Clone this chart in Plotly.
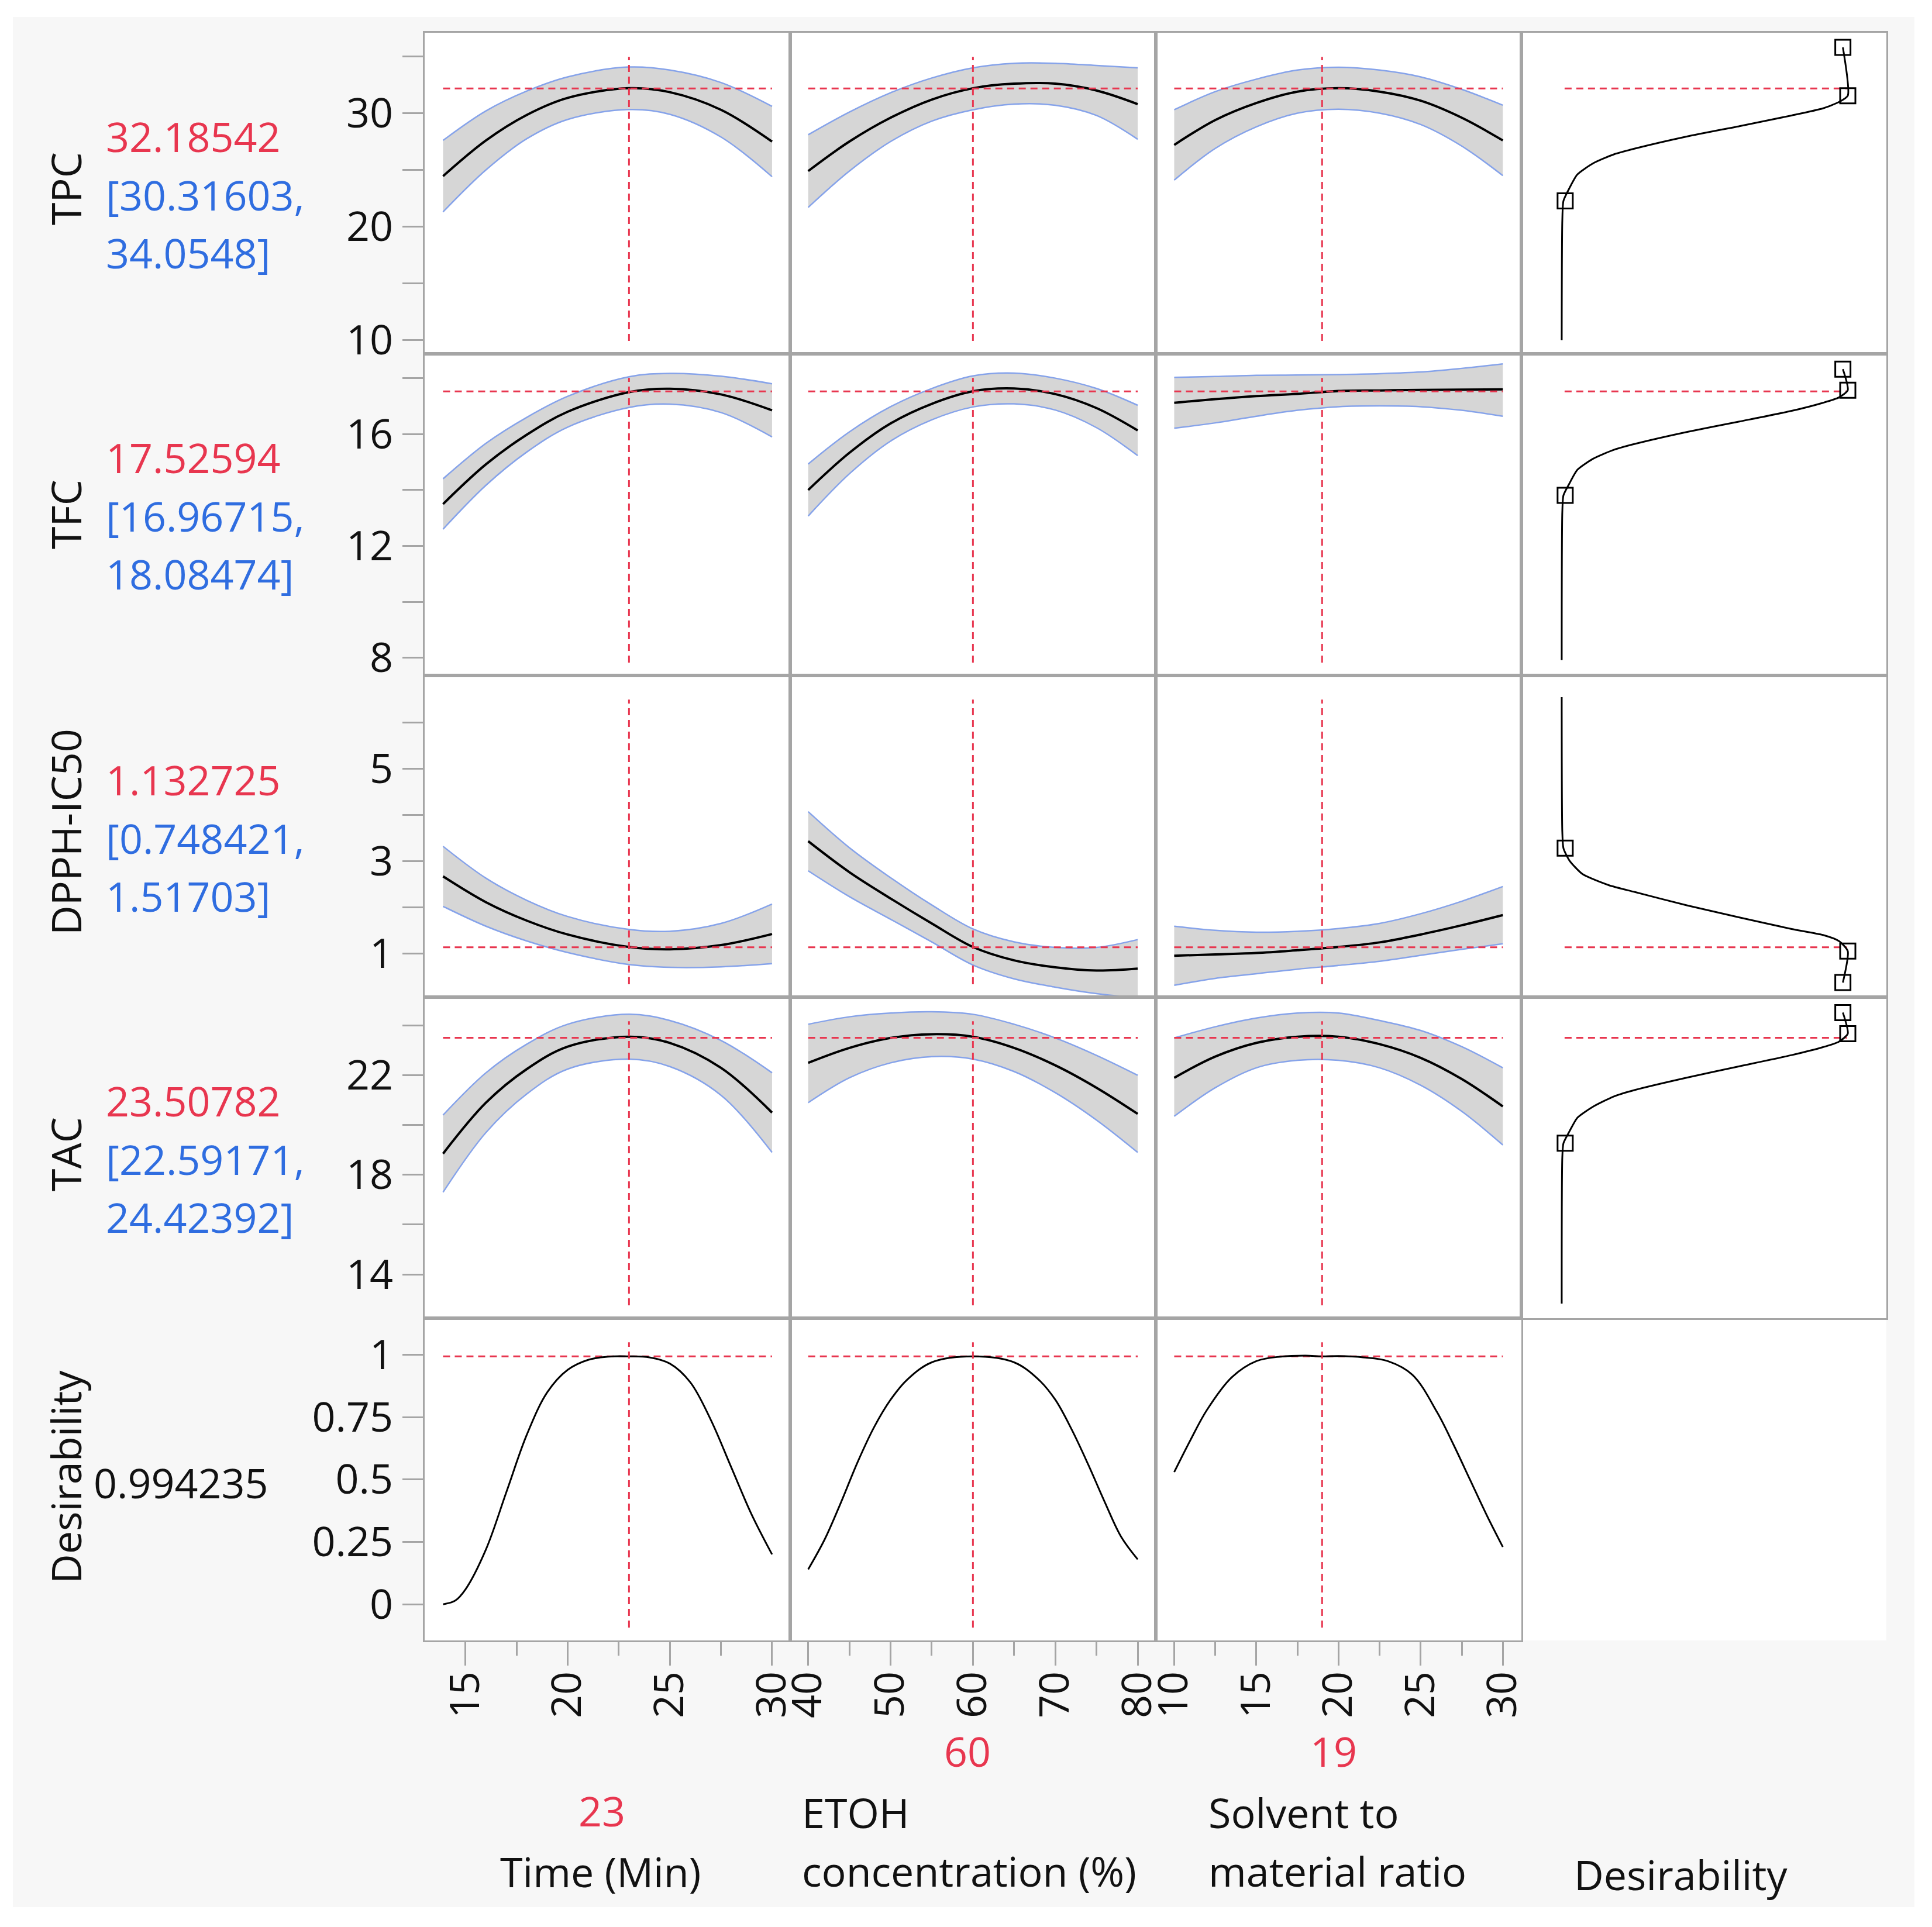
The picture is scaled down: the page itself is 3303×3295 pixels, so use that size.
import plotly.graph_objects as go
from plotly.subplots import make_subplots

# factor grids used by the profiler curves
time_x = [13.9, 16, 18, 20, 23, 25, 27.5, 30]
etoh_x = [40, 45, 50, 55, 60, 65, 70, 75, 80]
solv_x = [10, 12.5, 15, 17.5, 20, 22.5, 25, 27.5, 30]

# TPC profiles (prediction, upper / lower confidence limits)
tpc_time = [24.45, 27.6, 29.85, 31.35, 32.2, 31.85, 30.3, 27.5]
tpc_time_hi = [27.6, 30.2, 31.95, 33.2, 34.07, 33.8, 32.7, 30.6]
tpc_time_lo = [21.3, 25.0, 27.75, 29.45, 30.32, 29.9, 27.9, 24.4]
tpc_etoh = [24.9, 27.5, 29.6, 31.2, 32.2, 32.6, 32.6, 32.0, 30.8]
tpc_etoh_hi = [28.1, 30.1, 31.8, 33.1, 34.0, 34.4, 34.4, 34.2, 34.0]
tpc_etoh_lo = [21.7, 24.9, 27.5, 29.3, 30.3, 30.8, 30.7, 29.8, 27.7]
tpc_solv = [27.2, 29.4, 30.9, 31.9, 32.2, 31.9, 31.1, 29.6, 27.6]
tpc_solv_hi = [30.3, 31.9, 33.0, 33.8, 34.05, 33.8, 33.2, 32.1, 30.7]
tpc_solv_lo = [24.1, 26.9, 28.8, 30.0, 30.35, 30.0, 29.0, 27.1, 24.5]

# TFC profiles
tfc_time = [13.5, 14.92, 15.98, 16.8, 17.5, 17.62, 17.42, 16.85]
tfc_time_hi = [14.4, 15.67, 16.6, 17.35, 18.05, 18.17, 18.07, 17.8]
tfc_time_lo = [12.6, 14.17, 15.36, 16.25, 16.95, 17.07, 16.77, 15.9]
tfc_etoh = [14.0, 15.33, 16.38, 17.08, 17.53, 17.63, 17.43, 16.93, 16.13]
tfc_etoh_hi = [14.93, 16.08, 16.98, 17.63, 18.08, 18.18, 18.0, 17.63, 17.03]
tfc_etoh_lo = [13.07, 14.58, 15.75, 16.51, 16.97, 17.08, 16.86, 16.23, 15.23]
tfc_solv = [17.12, 17.25, 17.36, 17.44, 17.54, 17.56, 17.58, 17.59, 17.6]
tfc_solv_hi = [18.03, 18.06, 18.1, 18.11, 18.13, 18.16, 18.22, 18.35, 18.51]
tfc_solv_lo = [16.21, 16.4, 16.64, 16.85, 16.98, 17.01, 16.98, 16.85, 16.64]

# DPPH-IC50 profiles
dpph_time = [2.67, 2.11, 1.71, 1.41, 1.14, 1.09, 1.18, 1.42]
dpph_time_hi = [3.32, 2.63, 2.15, 1.80, 1.52, 1.48, 1.65, 2.07]
dpph_time_lo = [2.02, 1.59, 1.27, 1.02, 0.76, 0.70, 0.71, 0.78]
dpph_etoh = [3.43, 2.76, 2.19, 1.65, 1.14, 0.85, 0.70, 0.63, 0.67]
dpph_etoh_hi = [4.07, 3.29, 2.64, 2.05, 1.53, 1.25, 1.13, 1.13, 1.30]
dpph_etoh_lo = [2.79, 2.23, 1.74, 1.25, 0.75, 0.45, 0.27, 0.13, 0.04]
dpph_solv = [0.95, 0.98, 1.01, 1.07, 1.14, 1.24, 1.41, 1.61, 1.83]
dpph_solv_hi = [1.59, 1.50, 1.46, 1.48, 1.54, 1.65, 1.86, 2.13, 2.45]
dpph_solv_lo = [0.31, 0.46, 0.56, 0.66, 0.74, 0.83, 0.96, 1.09, 1.21]

# TAC profiles
tac_time = [18.85, 20.9, 22.25, 23.15, 23.55, 23.3, 22.3, 20.5]
tac_time_hi = [20.4, 22.1, 23.25, 24.05, 24.45, 24.2, 23.4, 22.1]
tac_time_lo = [17.3, 19.7, 21.25, 22.25, 22.65, 22.35, 21.2, 18.9]
tac_etoh = [22.5, 23.1, 23.5, 23.65, 23.55, 23.1, 22.4, 21.5, 20.45]
tac_etoh_hi = [24.05, 24.35, 24.5, 24.55, 24.45, 24.05, 23.5, 22.8, 22.0]
tac_etoh_lo = [20.9, 21.9, 22.5, 22.75, 22.65, 22.15, 21.3, 20.2, 18.9]
tac_solv = [21.9, 22.75, 23.3, 23.55, 23.55, 23.25, 22.7, 21.85, 20.75]
tac_solv_hi = [23.5, 23.95, 24.3, 24.5, 24.5, 24.2, 23.8, 23.15, 22.3]
tac_solv_lo = [20.35, 21.5, 22.3, 22.6, 22.6, 22.3, 21.6, 20.55, 19.2]

# overall desirability profiles
des_time_x = [13.9, 14.5, 15, 16, 17, 18, 19, 20, 21, 22, 23, 24, 25, 26, 27, 28, 29, 30]
des_time = [0.0, 0.015, 0.06, 0.22, 0.45, 0.68, 0.85, 0.94, 0.98, 0.993, 0.994, 0.99,
            0.965, 0.89, 0.74, 0.55, 0.36, 0.2]
des_etoh_x = [40, 42, 44, 46, 48, 50, 52, 55, 60, 65, 68, 70, 72, 74, 76, 78, 80]
des_etoh = [0.14, 0.26, 0.41, 0.57, 0.71, 0.82, 0.9, 0.97, 0.994, 0.97, 0.9, 0.82,
            0.7, 0.56, 0.41, 0.27, 0.18]
des_solv_x = [10, 11, 12, 13.5, 15, 16.5, 18, 19, 20, 21.5, 23, 24.5, 26, 27, 28, 29, 30]
des_solv = [0.53, 0.66, 0.78, 0.91, 0.975, 0.993, 0.997, 0.994, 0.995, 0.99, 0.975,
            0.92, 0.77, 0.64, 0.5, 0.36, 0.23]

# desirability functions (x = desirability, y = response)
fn_d = [0.060, 0.062, 0.066, 0.087, 0.114, 0.169, 0.241, 0.314, 0.496, 0.677, 0.858,
        0.967, 1.022, 1.053, 1.036]
tpc_fn = [10.0, 20.5, 22.27, 23.41, 24.59, 25.58, 26.37, 26.88, 27.95, 28.86, 29.80,
          30.43, 30.98, 31.54, 35.8]
tfc_fn = [7.92, 13.2, 13.81, 14.24, 14.72, 15.12, 15.44, 15.65, 16.08, 16.45, 16.83,
          17.12, 17.31, 17.57, 18.32]
dpph_fn_d = [0.060, 0.062, 0.066, 0.087, 0.132, 0.223, 0.314, 0.496, 0.677, 0.858,
             0.967, 1.022, 1.053, 1.036]
dpph_fn = [6.55, 3.64, 3.28, 3.01, 2.72, 2.48, 2.33, 2.04, 1.78, 1.53, 1.40, 1.27,
           1.05, 0.37]
tac_fn = [12.83, 18.7, 19.27, 19.75, 20.29, 20.74, 21.15, 21.41, 21.91, 22.36, 22.81,
          23.13, 23.35, 23.67, 24.52]
mark_d = [0.072, 1.053, 1.036]
tpc_mark = [22.27, 31.54, 35.8]
tfc_mark = [13.81, 17.57, 18.32]
dpph_mark = [3.28, 1.05, 0.37]
tac_mark = [19.27, 23.67, 24.52]

# current settings
factor_now = [23, 60, 19]
factor_now_txt = ["23", "60", "19"]
resp_names = ["TPC", "TFC", "DPPH-IC50", "TAC", "Desirability"]
resp_now = [32.18542, 17.52594, 1.132725, 23.50782, 0.994235]
resp_now_txt = ["32.18542", "17.52594", "1.132725", "23.50782"]
resp_ci_txt = [["[30.31603,", "34.0548]"], ["[16.96715,", "18.08474]"],
               ["[0.748421,", "1.51703]"], ["[22.59171,", "24.42392]"]]

# axis ticks
tpc_ticks = [10, 15, 20, 25, 30, 35]
tpc_labels = ["10", "", "20", "", "30", ""]
tfc_ticks = [8, 10, 12, 14, 16, 18]
tfc_labels = ["8", "", "12", "", "16", ""]
dpph_ticks = [1, 2, 3, 4, 5, 6]
dpph_labels = ["1", "", "3", "", "5", ""]
tac_ticks = [14, 16, 18, 20, 22, 24]
tac_labels = ["14", "", "18", "", "22", ""]
des_ticks = [0, 0.25, 0.5, 0.75, 1]
des_labels = ["0", "0.25", "0.5", "0.75", "1"]
time_ticks = [15, 20, 25, 30]
time_minor = [17.5, 22.5, 27.5]
etoh_ticks = [40, 50, 60, 70, 80]
etoh_minor = [45, 55, 65, 75]
solv_ticks = [10, 15, 20, 25, 30]
solv_minor = [12.5, 17.5, 22.5, 27.5]

RED = "#e8364f"
BLUE = "#2f6de0"
EDGE = "#86a3ea"
FILL = "#d6d6d6"
GRID = "#a5a5a5"
FONT = "Open Sans"
FS = 70

W, H = 3303, 3295
OFF = 8  # page body margin pushes the figure by this much
col_px = [726, 1351, 1976, 2601, 3225]
row_px = [56, 605, 1155, 1705, 2254, 2805]
x_ranges = [[13.0, 30.89], [37.82, 82.2], [8.88, 31.13], [-0.08, 1.187]]
y_ranges = [[8.79, 37.09], [7.37, 18.87], [0.054, 7.02], [12.24, 25.14], [-0.145, 1.147]]


def px_x(px):
    return (px - OFF) / W


def px_y(py):
    return 1 - (py - OFF) / H


profiles = [
    [(time_x, tpc_time, tpc_time_hi, tpc_time_lo),
     (etoh_x, tpc_etoh, tpc_etoh_hi, tpc_etoh_lo),
     (solv_x, tpc_solv, tpc_solv_hi, tpc_solv_lo)],
    [(time_x, tfc_time, tfc_time_hi, tfc_time_lo),
     (etoh_x, tfc_etoh, tfc_etoh_hi, tfc_etoh_lo),
     (solv_x, tfc_solv, tfc_solv_hi, tfc_solv_lo)],
    [(time_x, dpph_time, dpph_time_hi, dpph_time_lo),
     (etoh_x, dpph_etoh, dpph_etoh_hi, dpph_etoh_lo),
     (solv_x, dpph_solv, dpph_solv_hi, dpph_solv_lo)],
    [(time_x, tac_time, tac_time_hi, tac_time_lo),
     (etoh_x, tac_etoh, tac_etoh_hi, tac_etoh_lo),
     (solv_x, tac_solv, tac_solv_hi, tac_solv_lo)],
]
des_profiles = [(des_time_x, des_time), (des_etoh_x, des_etoh), (des_solv_x, des_solv)]
fn_curves = [(fn_d, tpc_fn, tpc_mark), (fn_d, tfc_fn, tfc_mark),
             (dpph_fn_d, dpph_fn, dpph_mark), (fn_d, tac_fn, tac_mark)]
y_ticks = [(tpc_ticks, tpc_labels), (tfc_ticks, tfc_labels), (dpph_ticks, dpph_labels),
           (tac_ticks, tac_labels), (des_ticks, des_labels)]
x_ticks = [(time_ticks, time_minor), (etoh_ticks, etoh_minor),
           (solv_ticks, solv_minor), (des_ticks, [])]

fig = make_subplots(rows=5, cols=4)
dash = "12px,8px"

for r in range(4):
    for c in range(3):
        x, m, hi, lo = profiles[r][c]
        fig.add_trace(go.Scatter(x=x, y=lo, mode="lines", hoverinfo="skip",
                                 line=dict(color=EDGE, width=2.5, shape="spline")),
                      row=r + 1, col=c + 1)
        fig.add_trace(go.Scatter(x=x, y=hi, mode="lines", fill="tonexty", fillcolor=FILL,
                                 hoverinfo="skip",
                                 line=dict(color=EDGE, width=2.5, shape="spline")),
                      row=r + 1, col=c + 1)
        fig.add_trace(go.Scatter(x=x, y=m, mode="lines",
                                 line=dict(color="black", width=4, shape="spline")),
                      row=r + 1, col=c + 1)
        fig.add_trace(go.Scatter(x=[x[0], x[-1]], y=[resp_now[r]] * 2, mode="lines",
                                 line=dict(color=RED, width=3, dash=dash)),
                      row=r + 1, col=c + 1)
    # desirability function column
    d, y, mk = fn_curves[r]
    fig.add_trace(go.Scatter(x=[0.07, 1.05], y=[resp_now[r]] * 2, mode="lines",
                             line=dict(color=RED, width=3, dash=dash)),
                  row=r + 1, col=4)
    fig.add_trace(go.Scatter(x=d, y=y, mode="lines",
                             line=dict(color="black", width=3, shape="spline",
                                       smoothing=0.6)),
                  row=r + 1, col=4)
    fig.add_trace(go.Scatter(x=mark_d, y=mk, mode="markers",
                             marker=dict(symbol="square-open", size=26, color="black",
                                         line=dict(width=3, color="black"))),
                  row=r + 1, col=4)

for c in range(3):
    x, d = des_profiles[c]
    fig.add_trace(go.Scatter(x=[x[0], x[-1]], y=[resp_now[4]] * 2, mode="lines",
                             line=dict(color=RED, width=3, dash=dash)),
                  row=5, col=c + 1)
    fig.add_trace(go.Scatter(x=x, y=d, mode="lines",
                             line=dict(color="black", width=3, shape="spline")),
                  row=5, col=c + 1)

shapes = [
    dict(type="rect", xref="paper", yref="paper", x0=px_x(22), x1=px_x(3273),
         y0=px_y(3261), y1=px_y(29), fillcolor="#f7f7f7", line=dict(width=0),
         layer="below"),
    dict(type="rect", xref="paper", yref="paper", x0=px_x(col_px[0]), x1=px_x(col_px[4]),
         y0=px_y(row_px[5]), y1=px_y(row_px[0]), fillcolor="white",
         line=dict(width=0), layer="below"),
]

for r in range(5):
    for c in range(4):
        idx = r * 4 + c + 1
        sx = "" if idx == 1 else str(idx)
        xa = fig.layout["xaxis" + sx]
        ya = fig.layout["yaxis" + sx]
        xa.domain = [px_x(col_px[c]), px_x(col_px[c + 1])]
        ya.domain = [px_y(row_px[r + 1]), px_y(row_px[r])]
        common = dict(showline=True, mirror=True, linecolor=GRID, linewidth=3,
                      showgrid=False, zeroline=False, fixedrange=True, automargin=False)
        xa.update(range=x_ranges[c], **common)
        ya.update(range=y_ranges[r], **common)
        if r == 4:
            tv, mv = x_ticks[c]
            lab = des_labels if c == 3 else [str(v) for v in tv]
            xa.update(tickmode="array", tickvals=tv, ticktext=lab, ticks="outside",
                      ticklen=40, tickwidth=3, tickcolor=GRID, tickangle=-90,
                      ticklabelstandoff=-18,
                      tickfont=dict(family=FONT, size=FS, color="#111111"))
            if mv:
                xa.update(minor=dict(tickmode="array", tickvals=mv, ticks="outside",
                                     ticklen=23, tickwidth=3, tickcolor=GRID))
        else:
            xa.update(showticklabels=False, ticks="")
        if c == 0:
            tv, tl = y_ticks[r]
            ya.update(tickmode="array", tickvals=tv, ticktext=tl, ticks="outside",
                      ticklen=35, tickwidth=3, tickcolor=GRID, ticklabelstandoff=2,
                      tickfont=dict(family=FONT, size=FS, color="#111111"))
        else:
            ya.update(showticklabels=False, ticks="")
        # vertical red reference line at the current factor setting
        if c < 3:
            fx = factor_now[c]
            shapes.append(dict(type="line", xref="x" + sx, yref="y" + sx + " domain",
                               x0=fx, x1=fx, y0=0.04, y1=0.925,
                               line=dict(color=RED, width=3, dash=dash)))

annotations = []


def text(t, px, py, color="#111111", anchor="center", angle=0):
    annotations.append(dict(text=t, x=px_x(px), y=px_y(py), xref="paper", yref="paper",
                            xanchor=anchor, yanchor="middle", showarrow=False,
                            textangle=angle,
                            font=dict(family=FONT, size=FS, color=color)))


row_label_y = [323, 880, 1423, 1974, 2526]
for r in range(5):
    text(resp_names[r], 112, row_label_y[r], angle=-90)
val_y = [233, 782, 1333, 1882]
for r in range(4):
    text(resp_now_txt[r], 179, val_y[r], color=RED, anchor="left")
    text(resp_ci_txt[r][0], 179, val_y[r] + 100, color=BLUE, anchor="left")
    text(resp_ci_txt[r][1], 179, val_y[r] + 199, color=BLUE, anchor="left")
text("0.994235", 158, 2535, anchor="left")

text(factor_now_txt[0], 1029, 3096, color=RED)
text("Time (Min)", 1026, 3200)
text(factor_now_txt[1], 1654, 2994, color=RED)
text("ETOH", 1369, 3099, anchor="left")
text("concentration (%)", 1369, 3199, anchor="left")
text(factor_now_txt[2], 2280, 2994, color=RED)
text("Solvent to", 2064, 3099, anchor="left")
text("material ratio", 2064, 3199, anchor="left")
text("Desirability", 2873, 3205)

fig.update_layout(width=W, height=H, margin=dict(l=0, r=0, t=0, b=0),
                  paper_bgcolor="white", plot_bgcolor="white", showlegend=False,
                  shapes=shapes, annotations=annotations,
                  font=dict(family=FONT, size=FS, color="#111111"))

fig.write_html("out.html")
